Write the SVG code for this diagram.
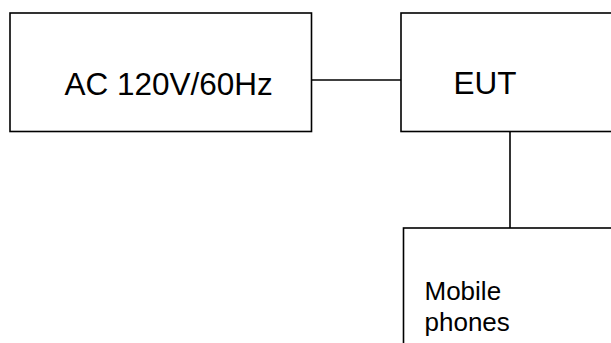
<svg xmlns="http://www.w3.org/2000/svg" width="611" height="343" viewBox="0 0 611 343">
<style>
.box{fill:#fff;stroke:#000;stroke-width:1.6}
.ln{stroke:#000;stroke-width:1.6;fill:none}
.t{font-family:"Liberation Sans",Arial,sans-serif;fill:#000}
</style>
<rect width="611" height="343" fill="#fff"/>
<g id="connectors">
<line class="ln" x1="308" y1="80" x2="401" y2="80"/>
<line class="ln" x1="510" y1="129" x2="510" y2="228"/>
</g>
<g id="ac">
<rect class="box" x="10" y="13" width="301.5" height="118.5"/>
<text class="t" x="64.5" y="94.5" font-size="31.5">AC 120V/60Hz</text>
</g>
<g id="eut">
<rect class="box" x="401" y="13" width="230" height="118.5"/>
<text class="t" x="453.5" y="94" font-size="31.5">EUT</text>
</g>
<g id="mobile">
<rect class="box" x="403.5" y="228" width="230" height="140"/>
<text class="t" font-size="26"><tspan x="424.5" y="300">Mobile</tspan><tspan x="424.5" y="331">phones</tspan></text>
</g>
</svg>
